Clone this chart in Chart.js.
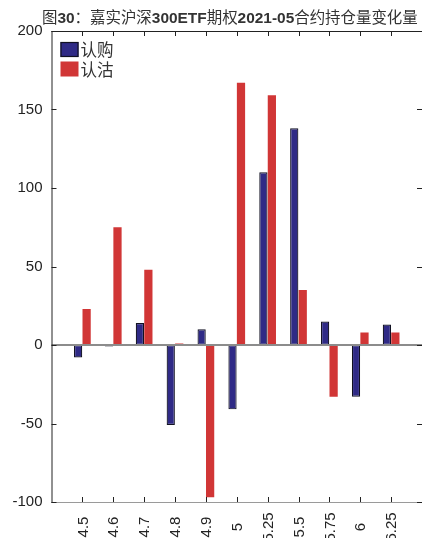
<!DOCTYPE html>
<html>
<head>
<meta charset="utf-8">
<script src="https://cdn.jsdelivr.net/npm/chart.js@4/dist/chart.umd.min.js"></script>
<style>
html,body{margin:0;padding:0;background:#fff;}
#wrap{width:422px;height:538px;position:relative;}
</style>
</head>
<body>
<div id="wrap"><canvas id="c"></canvas></div>
<script>
const titleText = '图30：嘉实沪深300ETF期权2021-05合约持仓量变化量';
const categories = ['4.5','4.6','4.7','4.8','4.9','5','5.25','5.5','5.75','6','6.25'];
const callChange = [-8, -1, 14, -51, 10, -41, 110, 138, 15, -33, 13];
const putChange = [23, 75, 48, 1, -97, 167, 159, 35, -33, 8, 8];
const seriesNames = ['认购', '认沽'];
const yTicks = [-100, -50, 0, 50, 100, 150, 200];

const LATIN = "'Liberation Sans', Arial, sans-serif";
const CJK = "'Noto Sans CJK SC', 'Noto Sans', sans-serif";
const TEXT = '#222';

// padded category axis: one empty slot on each side
const labels = [''].concat(categories, ['']);
const pad = arr => [null].concat(arr, [null]);

const decor = {
  id: 'decor',
  afterDatasetsDraw(chart) {
    const {ctx, chartArea: a, scales: {x, y}} = chart;
    ctx.save();
    // zero line
    const y0 = Math.round(y.getPixelForValue(0));
    ctx.strokeStyle = '#8c8c8c';
    ctx.lineWidth = 2;
    ctx.beginPath(); ctx.moveTo(a.left, y0); ctx.lineTo(a.right, y0); ctx.stroke();
    // frame
    ctx.lineWidth = 1;
    ctx.strokeStyle = '#9a9a9a';
    ctx.beginPath(); ctx.moveTo(a.left, a.bottom + 0.5); ctx.lineTo(a.right, a.bottom + 0.5); ctx.stroke();
    ctx.strokeStyle = '#222';
    ctx.beginPath(); ctx.moveTo(a.left, a.top + 0.5); ctx.lineTo(a.right, a.top + 0.5); ctx.stroke();
    ctx.beginPath(); ctx.moveTo(a.left + 0.5, a.top); ctx.lineTo(a.left + 0.5, a.bottom + 1); ctx.stroke();
    // y ticks (inward, both sides)
    yTicks.forEach(v => {
      const py = Math.round(y.getPixelForValue(v)) + 0.5;
      ctx.beginPath(); ctx.moveTo(a.left, py); ctx.lineTo(a.left + 5, py); ctx.stroke();
      ctx.beginPath(); ctx.moveTo(a.right - 5, py); ctx.lineTo(a.right, py); ctx.stroke();
    });
    // x ticks (inward, top and bottom)
    categories.forEach((c, i) => {
      const px = Math.round(x.getPixelForValue(i + 1)) + 0.5;
      ctx.beginPath(); ctx.moveTo(px, a.top); ctx.lineTo(px, a.top + 5); ctx.stroke();
      ctx.beginPath(); ctx.moveTo(px, a.bottom); ctx.lineTo(px, a.bottom - 5); ctx.stroke();
    });
    // x labels, rotated and centred
    ctx.fillStyle = TEXT;
    ctx.font = '15px ' + LATIN;
    ctx.textAlign = 'center';
    ctx.textBaseline = 'middle';
    categories.forEach((c, i) => {
      const px = x.getPixelForValue(i + 1);
      ctx.save();
      ctx.translate(px, a.bottom + 25);
      ctx.rotate(-Math.PI / 2);
      ctx.fillText(c, 0, 1);
      ctx.restore();
    });
    // legend
    const items = chart.data.datasets;
    items.forEach((ds, i) => {
      const bx = a.left + 9, by = a.top + 11 + i * 19.5;
      ctx.fillStyle = ds.backgroundColor;
      ctx.fillRect(bx, by, 18, 15);
      if (ds.borderWidth) {
        ctx.strokeStyle = ds.borderColor;
        ctx.lineWidth = 1.2;
        ctx.strokeRect(bx + 0.5, by + 0.5, 17, 14);
      }
      ctx.fillStyle = '#333';
      ctx.font = '16.5px ' + CJK;
      ctx.textAlign = 'left';
      ctx.textBaseline = 'middle';
      ctx.fillText(ds.label, bx + 20, by + 8);
    });
    // title with bold latin runs, fitted to span x 42..418
    const runs = titleText.match(/[\x00-\x7F]+|[^\x00-\x7F]+/g);
    const isLatin = r => /^[\x00-\x7F]+$/.test(r);
    const fontFor = (r, s) => isLatin(r) ? 'bold ' + s + 'px ' + LATIN : s + 'px ' + CJK;
    let total = 0;
    runs.forEach(r => { ctx.font = fontFor(r, 15); total += ctx.measureText(r).width; });
    const size = 15 * 376 / total;
    let tx = 42;
    ctx.fillStyle = '#333';
    ctx.textAlign = 'left';
    ctx.textBaseline = 'alphabetic';
    runs.forEach(r => { ctx.font = fontFor(r, size); ctx.fillText(r, tx, 23); tx += ctx.measureText(r).width; });
    ctx.restore();
  }
};

new Chart(document.getElementById('c'), {
  type: 'bar',
  data: {
    labels: labels,
    datasets: [
      { label: seriesNames[0], data: pad(callChange), backgroundColor: '#2f2a86', borderColor: '#111122', borderWidth: 1.2, borderSkipped: false },
      { label: seriesNames[1], data: pad(putChange), backgroundColor: '#d13636', borderWidth: 0 }
    ]
  },
  options: {
    responsive: true,
    maintainAspectRatio: false,
    animation: false,
    categoryPercentage: 0.55,
    barPercentage: 0.97,
    layout: { padding: { top: 31, right: -2, left: 0, bottom: 0 } },
    plugins: { legend: { display: false }, title: { display: false }, tooltip: { enabled: false } },
    scales: {
      x: {
        offset: false,
        grid: { display: false, drawTicks: false },
        border: { display: false },
        ticks: { display: false },
        afterFit(s) { s.height = 36; }
      },
      y: {
        min: -100, max: 200,
        afterBuildTicks(s) { s.ticks = yTicks.map(v => ({ value: v })); },
        grid: { display: false, drawTicks: false },
        border: { display: false },
        ticks: { color: TEXT, font: { family: LATIN, size: 15 }, padding: 9 },
        afterFit(s) { s.width = 51.5; }
      }
    }
  },
  plugins: [decor]
});
</script>
</body>
</html>
